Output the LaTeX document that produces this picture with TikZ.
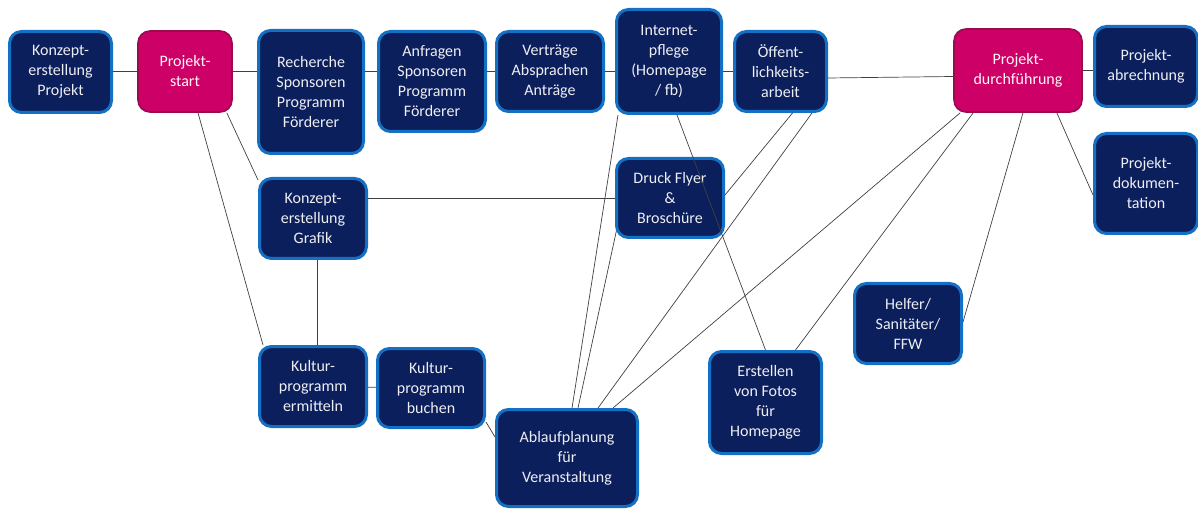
\documentclass[tikz,border=0pt]{standalone}
\usepackage{fontspec}
\setmainfont{Carlito}
\usetikzlibrary{backgrounds}
\definecolor{boxnavy}{HTML}{0B1F5C}
\definecolor{boxblue}{HTML}{1470C4}
\definecolor{startmagenta}{HTML}{CC0066}
\definecolor{startborder}{HTML}{9C0A4E}
\definecolor{linkgray}{HTML}{404040}
\definecolor{boxtext}{HTML}{EEEEF2}

\begin{document}
\begin{tikzpicture}[x=1pt,y=-1pt,font=\fontsize{16}{20}\selectfont,
  task/.style={draw=boxblue,fill=boxnavy,line width=3pt,rounded corners=12pt,text=boxtext,align=center,inner sep=0pt},
  milestone/.style={task,draw=startborder,fill=startmagenta,line width=1.6pt,text=white!88!pink},
  link/.style={draw=linkgray,line width=0.7pt}]
\useasboundingbox (0,0) rectangle (1198,510);
% top row
\node[task,minimum width=102pt,minimum height=81pt] (kprojekt) at (60.5,72) {Konzept-\\erstellung\\Projekt};
\node[milestone,minimum width=94pt,minimum height=81pt] (start) at (185,71.5) {Projekt-\\start};
\node[task,minimum width=105pt,minimum height=123pt] (recherche) at (311,92) {Recherche\\Sponsoren\\Programm\\Förderer};
\node[task,minimum width=107pt,minimum height=100pt] (anfragen) at (432,81.5) {Anfragen\\Sponsoren\\Programm\\Förderer};
\node[task,minimum width=107pt,minimum height=80pt] (vertraege) at (550,71.5) {Verträge\\Absprachen\\Anträge};
\node[task,minimum width=105pt,minimum height=104pt] (internet) at (669,61.5) {Internet-\\pflege\\(Homepage\\/ fb)};
\node[task,minimum width=92pt,minimum height=80pt] (oeff) at (780.5,71.5) {Öffent-\\lichkeits-\\arbeit};
\node[milestone,minimum width=128pt,minimum height=83pt] (durchf) at (1018,70.5) {Projekt-\\durchführung};
\node[task,minimum width=103pt,minimum height=80pt] (abrechnung) at (1146,66.5) {Projekt-\\abrechnung};
\node[task,minimum width=103pt,minimum height=100pt] (doku) at (1146,183.5) {Projekt-\\dokumen-\\tation};
% middle and bottom
\node[task,minimum width=107pt,minimum height=80pt] (kgrafik) at (313,218.5) {Konzept-\\erstellung\\Grafik};
\node[task,minimum width=107pt,minimum height=79pt] (druck) at (670,198) {Druck Flyer\\\&\\Broschüre};
\node[task,minimum width=107pt,minimum height=80pt] (kermitteln) at (313,386.5) {Kultur-\\programm\\ermitteln};
\node[task,minimum width=107pt,minimum height=79pt] (kbuchen) at (431,388) {Kultur-\\programm\\buchen};
\node[task,minimum width=141pt,minimum height=97pt] (ablauf) at (567,458) {Ablaufplanung\\für\\Veranstaltung};
\node[task,minimum width=112pt,minimum height=102pt] (fotos) at (765.5,402.5) {Erstellen\\von Fotos\\für\\Homepage};
\node[task,minimum width=107pt,minimum height=80pt] (helfer) at (908,323.5) {Helfer/\\Sanitäter/\\FFW};
% connectors
\begin{scope}[on background layer]
\draw[link] (kprojekt.east |- start.east) -- (start.east);
\draw[link] (start.east) -- (start.east -| recherche.west);
\draw[link] (start.east -| recherche.east) -- (start.east -| anfragen.west);
\draw[link] (start.east -| anfragen.east) -- (start.east -| vertraege.west);
\draw[link] (vertraege.east) -- (vertraege.east -| internet.west);
\draw[link] (vertraege.east -| internet.east) -- (oeff.west);
\draw[link] ([yshift=-6.5pt]oeff.east) -- ([yshift=-6pt]durchf.west);
\draw[link] (durchf.east) -- (durchf.east -| abrechnung.west);
\draw[link] ([xshift=-26pt]durchf.south east) -- ([yshift=-11.5pt]doku.west);
\draw[link] ([xshift=-6pt]start.south east) -- ([yshift=-3pt]kgrafik.north west);
\draw[link] ([xshift=13pt]start.south) -- ([xshift=5pt]kermitteln.north west);
\draw[link] (druck.west -| kgrafik.east) -- (druck.west);
\draw[link] ([xshift=4pt]kgrafik.south) -- ([xshift=4pt]kermitteln.north);
\draw[link] (kermitteln) -- (kbuchen);
\draw[link] ([yshift=7pt]kbuchen.south east) -- ([yshift=-29pt]ablauf.north west);
\draw[link] ([xshift=3pt]internet.south west) -- ([xshift=5pt]ablauf.north);
\draw[link] ([xshift=2pt,yshift=11pt]druck.south west) -- ([xshift=11pt]ablauf.north);
\draw[link] ([xshift=12pt]oeff.south) -- ([yshift=3pt]druck.east);
\draw[link] ([xshift=-16pt]oeff.south east) -- ([xshift=31pt]ablauf.north);
\draw[link] ([xshift=7pt]durchf.south west) -- ([xshift=46pt]ablauf.north);
\draw[link] ([xshift=20pt]durchf.south west) -- ([xshift=30pt]fotos.north);
\draw[link] ([xshift=5pt]durchf.south) -- ([yshift=1.5pt]helfer.east);
\end{scope}
% this one runs across the flyer box
\draw[link] ([xshift=8pt]internet.south) -- (fotos.north);
\end{tikzpicture}
\end{document}
